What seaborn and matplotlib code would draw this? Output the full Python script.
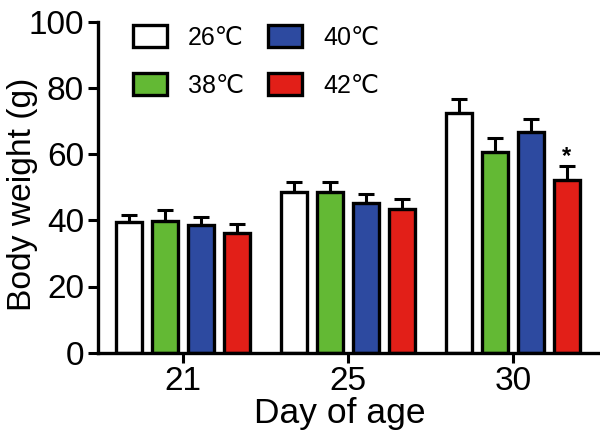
import numpy as np
import pandas as pd
import matplotlib
matplotlib.use("Agg")
import matplotlib.pyplot as plt
import seaborn as sns

days = ["21", "25", "30"]
temps = ["26℃", "38℃", "40℃", "42℃"]
mean_26 = [39.4, 48.5, 72.5]
mean_38 = [39.7, 48.5, 60.7]
mean_40 = [38.7, 45.3, 66.8]
mean_42 = [36.2, 43.5, 52.3]
err_26 = [2.3, 3.3, 4.2]
err_38 = [3.5, 4.4, 4.3]
err_40 = [2.3, 2.7, 3.9]
err_42 = [2.8, 3.0, 4.2]
colors = ["#FFFFFF", "#63B934", "#2D4AA0", "#E21F18"]

means = [mean_26, mean_38, mean_40, mean_42]
errs = [err_26, err_38, err_40, err_42]
rows = []
for t, m, e in zip(temps, means, errs):
    for d, mv, ev in zip(days, m, e):
        rows.append({"day": d, "temp": t, "weight": mv, "err": ev})
df = pd.DataFrame(rows)

sns.set_style("ticks")
plt.rcParams["font.family"] = ["Liberation Sans", "DejaVu Sans"]
plt.rcParams.update({"text.color": "black", "axes.labelcolor": "black",
                     "xtick.color": "black", "ytick.color": "black",
                     "axes.edgecolor": "black"})

fig = plt.figure(figsize=(6, 4.44), dpi=100)
ax = fig.add_axes([98/600, (444-352.5)/444, 500/600, 330/444])

sns.barplot(data=df, x="day", y="weight", hue="temp", order=days, hue_order=temps,
            palette=colors, saturation=1, edgecolor="black", linewidth=2.4,
            width=0.87, gap=0.27, errorbar=None, ax=ax, legend=True)

# error bars (upper only) at bar centers
bars = [p for p in ax.patches if p.get_height() > 0]
for p in bars:
    cx = p.get_x() + p.get_width() / 2
    h = p.get_height()
    row = df.iloc[(df["weight"] - h).abs().argsort().iloc[0]]
    ax.errorbar(cx, h, yerr=[[0], [row["err"]]], fmt="none", ecolor="black",
                elinewidth=2.2, capsize=5.5, capthick=2.2, zorder=1)
    if row["temp"] == "42℃" and row["day"] == "30":
        ax.text(cx, h + row["err"] + 3.0, "*", ha="center", va="center",
                fontsize=17, fontweight="bold")

ax.set_xlim(-0.515, 2.515)
ax.set_ylim(0, 100)
ax.set_yticks([0, 20, 40, 60, 80, 100])
ax.set_xlabel("Day of age", fontsize=25.5)
ax.set_ylabel("Body weight (g)", fontsize=24.2)
ax.xaxis.set_label_coords(0.484, -0.135)
ax.yaxis.set_label_coords(-0.12, 0.48)
ax.tick_params(axis="both", labelsize=24, width=2.2, length=7, pad=3, color="black")
for s in ["left", "bottom"]:
    ax.spines[s].set_linewidth(2.4)
sns.despine(ax=ax)

leg = ax.legend(ncol=2, loc="upper left", bbox_to_anchor=(0.045, 1.03), frameon=False,
                fontsize=18, handlelength=1.35, handleheight=0.95, handletextpad=0.85,
                columnspacing=0.95, labelspacing=0.95, borderpad=0)
for h in leg.legend_handles:
    h.set_edgecolor("black")
    h.set_linewidth(2.4)

fig.savefig("out.png", dpi=100)
